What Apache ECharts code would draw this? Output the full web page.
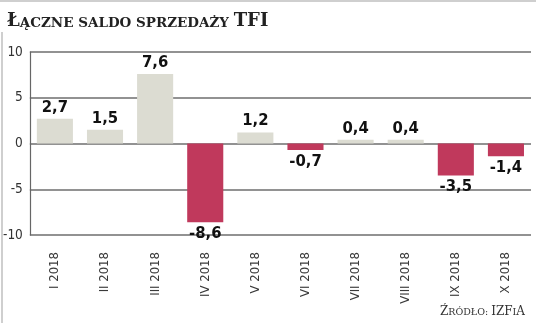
<!DOCTYPE html>
<html><head><meta charset="utf-8">
<script src="https://cdn.jsdelivr.net/npm/echarts@6/dist/echarts.min.js"></script>
<style>html,body{margin:0;padding:0;background:#fff}#c{width:536px;height:323px}</style>
</head><body><div id="c"></div>
<script>
var categories = ['I 2018','II 2018','III 2018','IV 2018','V 2018','VI 2018','VII 2018','VIII 2018','IX 2018','X 2018'];
var values = [2.7, 1.5, 7.6, -8.6, 1.2, -0.7, 0.4, 0.4, -3.5, -1.4];
var yTicks = [-10, -5, 0, 5, 10];

var chart = echarts.init(document.getElementById('c'));
chart.setOption({
  animation: false,
  backgroundColor: '#fff',
  title: [{
    left: 2, top: 3,
    text: '{b|Ł}{s|ĄCZNE SALDO SPRZEDAŻY }{b|TFI}',
    textStyle: { rich: {
      b: { fontFamily: 'DejaVu Serif', fontWeight: 'bold', fontSize: 18, lineHeight: 22, verticalAlign: 'bottom', color: '#222' },
      s: { fontFamily: 'DejaVu Serif', fontWeight: 'bold', fontSize: 13.5, lineHeight: 22, verticalAlign: 'bottom', color: '#222' }
    }}
  }, {
    right: 6, bottom: 3,
    text: '{b|Ź}{s|RÓDŁO: }{b|IZF}{s|I}{b|A}',
    textStyle: { fontWeight: 'normal', rich: {
      b: { fontFamily: 'DejaVu Serif', fontWeight: 'normal', fontSize: 12, lineHeight: 15, verticalAlign: 'bottom', color: '#333' },
      s: { fontFamily: 'DejaVu Serif', fontWeight: 'normal', fontSize: 9.5, lineHeight: 15, verticalAlign: 'bottom', color: '#333' }
    }}
  }],
  graphic: [
    { type: 'line', shape: { x1: 0, y1: 1, x2: 536, y2: 1 }, style: { stroke: '#cfcfcf', lineWidth: 2 } },
    { type: 'line', shape: { x1: 2, y1: 32, x2: 2, y2: 323 }, style: { stroke: '#cfcfcf', lineWidth: 2 } }
  ],
  grid: { left: 28, right: 5, top: 52, bottom: 88 },
  xAxis: {
    type: 'category', data: categories,
    axisLine: { show: false }, axisTick: { show: false },
    axisLabel: { rotate: 90, margin: 17, fontSize: 13, color: '#3a3a3a', fontFamily: 'DejaVu Sans Condensed' }
  },
  yAxis: {
    type: 'value', min: yTicks[0], max: yTicks[yTicks.length - 1], interval: 5,
    axisLine: { show: true, lineStyle: { color: '#666', width: 1.2 } },
    axisTick: { show: false },
    axisLabel: { fontSize: 13.5, color: '#333', margin: 7, fontFamily: 'DejaVu Sans Condensed' },
    splitLine: { lineStyle: { color: '#6e6e6e', width: 1.5 } }
  },
  series: [{
    type: 'bar', barCategoryGap: '28%',
    data: values.map(function (v) {
      return { value: v, label: { position: v < 0 ? 'bottom' : 'top' } };
    }),
    itemStyle: { color: function (p) { return p.value < 0 ? '#c0395c' : '#dcdcd2'; } },
    label: {
      show: true,
      distance: 3,
      fontFamily: 'DejaVu Sans Condensed', fontWeight: 'bold', fontSize: 16.5, color: '#111',
      formatter: function (p) { return String(p.value).replace('.', ','); }
    }
  }]
});
</script></body></html>
